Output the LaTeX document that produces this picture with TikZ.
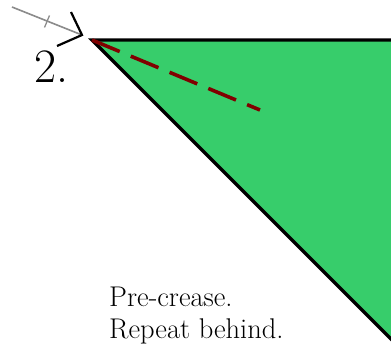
\documentclass[tikz,border=0pt]{standalone}
\definecolor{paper}{RGB}{55,205,107}
\definecolor{crease}{RGB}{128,0,0}
\definecolor{arrowgray}{RGB}{140,140,140}
\tikzset{
  edge/.style={draw=black,line width=3.2pt,line join=miter},
  valley/.style={draw=crease,line width=3.6pt,dash pattern=on 30pt off 12pt},
  shaft/.style={draw=arrowgray,line width=1.6pt},
  headline/.style={draw=black,line width=2.2pt},
  txt/.style={inner sep=0pt,anchor=base west,font=\fontsize{28.5}{32}\selectfont},
  steptxt/.style={inner sep=0pt,anchor=base west,font=\fontsize{48}{50}\selectfont}
}
\begin{document}
\begin{tikzpicture}[x=1pt,y=-1pt]
\useasboundingbox (0,0) rectangle (391,350);
\clip (0,0) rectangle (391,350);
% paper
\coordinate (v) at (92,40);
\coordinate (tr) at (520,40);
\coordinate (br) at (520,468);
\fill[paper] (v) -- (tr) -- (br) -- cycle;
\draw[edge] (tr) -- (v) -- (br);
% crease
\coordinate (ce) at (260,110);
\draw[valley] (v) -- (ce);
% arrow
\coordinate (as) at (12,7);
\coordinate (at) at (82,35);
\coordinate (a1) at (71,12);
\coordinate (a2) at (57,46);
\coordinate (k1) at (44.5,27.5);
\coordinate (k2) at (49.5,15.5);
\draw[shaft] (as) -- (at);
\draw[shaft,line width=1.3pt] (k1) -- (k2);
\draw[headline] (a1) -- (at) -- (a2);
% texts
\node[steptxt] (num) at (34.5,83) {2.};
\node[txt] (t1) at (109,306) {Pre-crease.};
\node[txt] (t2) at (109,338) {Repeat behind.};
\end{tikzpicture}
\end{document}
